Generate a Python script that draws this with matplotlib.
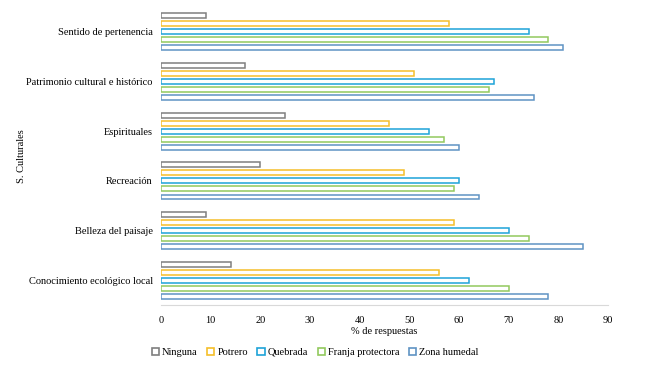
import matplotlib
matplotlib.use("Agg")
import matplotlib.pyplot as plt
from matplotlib.patches import Patch
import numpy as np

plt.rcParams['font.family'] = ['Liberation Serif', 'DejaVu Serif']

categories = ["Sentido de pertenencia", "Patrimonio cultural e histórico", "Espirituales",
              "Recreación", "Belleza del paisaje", "Conocimiento ecológico local"]
series_names = ["Ninguna", "Potrero", "Quebrada", "Franja protectora", "Zona humedal"]
ninguna = [9, 17, 25, 20, 9, 14]
potrero = [58, 51, 46, 49, 59, 56]
quebrada = [74, 67, 54, 60, 70, 62]
franja = [78, 66, 57, 59, 74, 70]
zona = [81, 75, 60, 64, 85, 78]
xticks = [0, 10, 20, 30, 40, 50, 60, 70, 80, 90]

series = [ninguna, potrero, quebrada, franja, zona]
colors = ["#7f7f7f", "#f5bf2a", "#1ea3d8", "#92c95e", "#5f93c4"]

fig = plt.figure(figsize=(6.5, 3.65), dpi=100)
ax = fig.add_axes([0.2477, 0.164, 0.9354 - 0.2477, 0.817])

n = len(categories)
ypos = np.arange(n)
pitch = 0.162
bh = 0.1
for i, (vals, col, name) in enumerate(zip(series, colors, series_names)):
    offs = (i - 2) * pitch
    ax.barh(ypos + offs, vals, height=bh, facecolor="white", edgecolor=col,
            linewidth=1.1, label=name)

ax.set_ylim(n - 0.5, -0.5)
ax.set_xlim(0, 90)
ax.set_yticks(ypos)
ax.set_yticklabels(categories, fontsize=7.5)
ax.set_xticks(xticks)
ax.set_xticklabels([str(t) for t in xticks], fontsize=7.5)
ax.tick_params(axis='both', length=0, pad=6)
ax.tick_params(axis='x', pad=8)
for s in ["top", "right", "left"]:
    ax.spines[s].set_visible(False)
ax.spines["bottom"].set_color("#d9d9d9")
ax.spines["bottom"].set_linewidth(0.8)
ax.set_xlabel("% de respuestas", fontsize=7.5, labelpad=1)
ax.set_ylabel("S. Culturales", fontsize=7.5)
ax.yaxis.set_label_coords(-0.302, 0.5)

handles = [Patch(facecolor="white", edgecolor=c, linewidth=1.2, label=nm)
           for c, nm in zip(colors, series_names)]
fig.legend(handles=handles, loc="center", bbox_to_anchor=(0.485, 0.035), ncol=5,
           frameon=False, fontsize=7.5, handlelength=0.7, handleheight=0.7,
           handletextpad=0.3, columnspacing=0.9)

fig.savefig("out.png", dpi=100)
